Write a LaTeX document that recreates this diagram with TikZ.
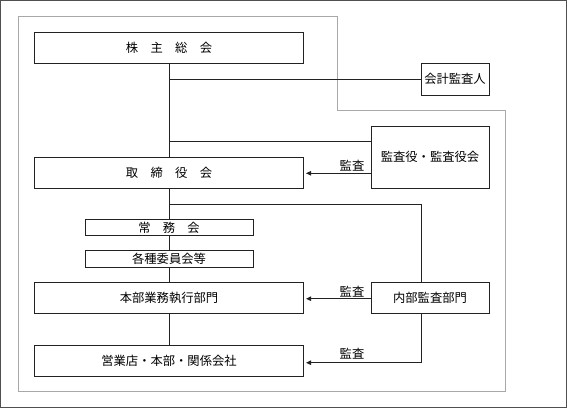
\documentclass[tikz,border=0pt]{standalone}
\usepackage{fontspec}
\newfontfamily\jp{Noto Sans CJK JP}
\usetikzlibrary{arrows.meta}
\definecolor{linec}{HTML}{222222}
\definecolor{frame}{HTML}{505050}
\definecolor{lgray}{HTML}{A8A8A8}
\tikzset{
  orgbox/.style={draw=linec, line width=1pt, fill=white, inner sep=0pt, font=\jp\fontsize{12.3}{14}\selectfont},
  conn/.style={draw=linec, line width=1pt},
  audarrow/.style={conn, -{Triangle[length=5pt,width=4.5pt]}, shorten >=2pt},
  lbl/.style={font=\jp\fontsize{12.3}{14}\selectfont, inner sep=0pt}
}
\begin{document}
\begin{tikzpicture}[x=1pt,y=-1pt]
\useasboundingbox (0,0) rectangle (567,408);
\draw[frame, line width=1.4pt] (0.7,0.7) rectangle (566.3,407.3);
\draw[lgray, line width=1pt] (18,16) -- (337,16) -- (337,110) -- (505.5,110) -- (505.5,391.5) -- (18,391.5) -- cycle;

\node[orgbox, minimum width=269pt, minimum height=31pt] (kabu) at (169,47.5) {株　主　総　会};
\node[orgbox, minimum width=68pt, minimum height=32pt] (kaikei) at (455,79) {会計監査人};
\node[orgbox, minimum width=118pt, minimum height=62pt] (kansayaku) at (430,157) {監査役・監査役会};
\node[orgbox, minimum width=269pt, minimum height=31pt] (torishimari) at (169,172.8) {取　締　役　会};
\node[orgbox, minimum width=168pt, minimum height=16.5pt] (jomu) at (169,227.5) {常　務　会};
\node[orgbox, minimum width=168pt, minimum height=16.5pt] (iinkai) at (169,259) {各種委員会等};
\node[orgbox, minimum width=269pt, minimum height=31pt] (honbu) at (169,297.8) {本部業務執行部門};
\node[orgbox, minimum width=118pt, minimum height=31pt] (naibu) at (430,297.8) {内部監査部門};
\node[orgbox, minimum width=269pt, minimum height=31pt] (eigyo) at (169,360.7) {営業店・本部・関係会社};

\coordinate (j1) at (169,79);
\coordinate (j2) at (169,141.7);
\coordinate (j3) at (169,204.3);
\coordinate (c3) at (421.7,204.3);
\coordinate (c4) at (421.7,362.7);

\draw[conn] (kabu.south) -- (torishimari.north);
\draw[conn] (j1) -- (kaikei.west);
\draw[conn] (j2) -- (j2 -| kansayaku.west);
\draw[conn] (torishimari.south) -- (jomu.north);
\draw[conn] (jomu.south) -- (iinkai.north);
\draw[conn] (iinkai.south) -- (honbu.north);
\draw[conn] (honbu.south) -- (eigyo.north);
\draw[conn] (j3) -- (c3) -- (c3 |- naibu.north);

\draw[audarrow] (kansayaku.west |- 0,173.3) -- (torishimari.east |- 0,173.3);
\draw[audarrow] (naibu.west |- 0,298.7) -- (honbu.east |- 0,298.7);
\draw[conn] (c4 |- naibu.south) -- (c4);
\draw[audarrow] (c4) -- (eigyo.east |- c4);

\node[lbl] (l1) at (352,166) {監査};
\node[lbl] (l2) at (352,292) {監査};
\node[lbl] (l3) at (352,354) {監査};
\end{tikzpicture}
\end{document}
